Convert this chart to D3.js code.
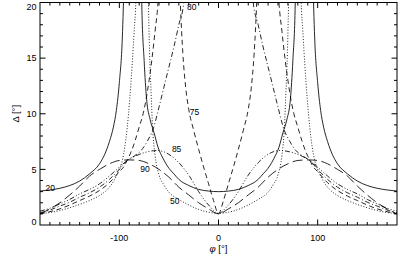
<!DOCTYPE html>
<html><head><meta charset="utf-8">
<script src="https://cdn.jsdelivr.net/npm/d3@7"></script>
<style>body{margin:0;background:#fff}text{font-family:"Liberation Sans",Arial,sans-serif;fill:#000}</style>
</head><body><svg id="c" width="399" height="265"></svg>
<script>
// ---- data; null marks a gap where the curve leaves the frame ----
const phi20   = [-180,-170,-160,-150,-140,-130,-120,-115,-110,-106,-103,-100,-97,-96,-95.3,-87,-78,-77.4,-75,-72.5,-69,-65,-61,-56,-50,-45,-40,-30,-20,-10,0,10,20,30,40,45,50,56,61,65,69,72.5,75,77.4,78,87,95.3,96,97,100,103,106,110,115,120,130,140,150,160,170,180];
const delta20 = [3.05,3.15,3.3,3.55,3.95,4.6,5.5,6.3,7.5,8.8,10.3,12.8,16.8,19.5,22,null,24,20,14.8,11.3,9.5,8.3,7.0,6.0,5.1,4.6,4.1,3.55,3.2,3.05,3.0,3.05,3.2,3.55,4.1,4.6,5.1,6.0,7.0,8.3,9.5,11.3,14.8,20,24,null,22,19.5,16.8,12.8,10.3,8.8,7.5,6.3,5.5,4.6,3.95,3.55,3.3,3.15,3.05];

const phi50   = [-180,-170,-160,-150,-140,-130,-120,-112,-106,-101,-97,-94.5,-92,-89.5,-87,-85,-83.4,-82.8,-77,-71.2,-70.7,-69.5,-68,-66.5,-64,-60,-55,-50,-40,-30,-20,-10,0,10,20,30,40,50,55,60,64,66.5,68,69.5,70.7,71.2,77,82.8,83.4,85,87,89.5,92,94.5,97,101,106,112,120,130,140,150,160,170,180];
const delta50 = [1.05,1.12,1.3,1.55,1.85,2.2,2.65,3.2,3.9,4.8,5.8,7.0,8.8,11.3,14.5,17.5,20,22,null,22,20,15.5,12,8.8,6.3,4.5,3.6,2.95,2.3,1.8,1.4,1.15,1.05,1.15,1.4,1.8,2.3,2.95,3.6,4.5,6.3,8.8,12,15.5,20,22,null,22,20,17.5,14.5,11.3,8.8,7.0,5.8,4.8,3.9,3.2,2.65,2.2,1.85,1.55,1.3,1.12,1.05];

const phi75   = [-180,-170,-160,-150,-140,-130,-120,-110,-100,-95,-92,-88,-84,-80,-76,-73,-70,-67,-64,-61,-60,-50,-39.3,-38.5,-36,-33,-30,-25,-20,-15,-10,-5,0,5,10,15,20,25,30,33,36,38.5,39.3,50,60,61,64,67,70,73,76,80,84,88,92,95,100,110,120,130,140,150,160,170,180];
const delta75 = [1.0,1.2,1.45,1.8,2.2,2.6,3.1,3.8,4.8,5.3,5.85,6.6,7.6,8.8,10.0,11.3,13.0,15.0,17.4,20,21.5,null,22,20,15.5,12.3,10.4,8.5,6.8,5.2,3.7,2.2,1.0,2.2,3.7,5.2,6.8,8.5,10.4,12.3,15.5,20,22,null,21.5,20,17.4,15.0,13.0,11.3,10.0,8.8,7.6,6.6,5.85,5.3,4.8,3.8,3.1,2.6,2.2,1.8,1.45,1.2,1.0];

const phi80   = [-180,-170,-160,-150,-140,-130,-120,-110,-100,-92,-85,-78,-72,-66,-60,-55,-50,-45,-40,-35,-33.5,0,33.5,35,40,45,50,55,60,66,72,78,85,92,100,110,120,130,140,150,160,170,180];
const delta80 = [1.1,1.35,1.7,2.05,2.5,2.9,3.4,4.1,5.0,5.8,6.2,6.7,7.5,8.6,10.6,12.4,14.2,16.0,18.0,20,22,null,22,20,18.0,16.0,14.2,12.4,10.6,8.6,7.5,6.7,6.2,5.8,5.0,4.1,3.4,2.9,2.5,2.05,1.7,1.35,1.1];

const phi85   = [-180,-170,-160,-150,-140,-130,-120,-110,-100,-92,-85,-75,-62,-50,-40,-29,-20,-9,0,9,20,29,40,50,62,75,85,92,100,110,120,130,140,150,160,170,180];
const delta85 = [1.25,1.5,1.9,2.3,2.8,3.2,3.7,4.4,5.2,5.8,6.15,6.5,6.7,6.35,5.6,4.35,3.0,1.7,1.05,1.7,3.0,4.35,5.6,6.35,6.7,6.5,6.15,5.8,5.2,4.4,3.7,3.2,2.8,2.3,1.9,1.5,1.25];

const phi90   = [-180,-170,-160,-150,-140,-130,-120,-110,-100,-90,-80,-70,-60,-50,-40,-30,-20,-10,0,10,20,30,40,50,60,70,80,90,100,110,120,130,140,150,160,170,180];
const delta90 = [1.0,1.45,2.0,2.7,3.5,4.4,5.0,5.5,5.8,5.85,5.8,5.5,5.0,4.3,3.4,2.7,2.0,1.45,1.0,1.45,2.0,2.7,3.4,4.3,5.0,5.5,5.8,5.85,5.8,5.5,5.0,4.4,3.5,2.7,2.0,1.45,1.0];

const curveNames  = ["20","50","75","80","85","90"];
const labelPhi    = [-174.5,-49,-29,-31.8,-47,-79];
const labelDelta  = [3.1,1.9,9.9,19.3,6.6,4.8];
const xTickLabels = ["-100","0","100"];
const yTickLabels = ["0","5","10","15","20"];

// ---- layout ----
const W=399,H=265, L=40, R=397, T=2.5, B=225;
const x=d3.scaleLinear().domain([-180,180]).range([L,R]);
const y=d3.scaleLinear().domain([0,20]).range([B,T]);
const svg=d3.select("#c");
svg.append("defs").append("clipPath").attr("id","pc").append("rect")
  .attr("x",L).attr("y",T).attr("width",R-L).attr("height",B-T);

const series=[
  {phi:phi20,d:delta20,dash:null},
  {phi:phi50,d:delta50,dash:"1,1.8"},
  {phi:phi75,d:delta75,dash:"5,3.5"},
  {phi:phi80,d:delta80,dash:"5,2.5,1,2.5"},
  {phi:phi85,d:delta85,dash:"5,2,1,2,1,2,1,2"},
  {phi:phi90,d:delta90,dash:"10,4.5"}
];
const line=d3.line().defined(p=>p[1]!=null).x(p=>x(p[0])).y(p=>y(p[1])).curve(d3.curveMonotoneX);
const g=svg.append("g").attr("clip-path","url(#pc)");
series.forEach(s=>{
  const pts=s.phi.map((p,i)=>[p,s.d[i]]);
  g.append("path").attr("d",line(pts)).attr("fill","none").attr("stroke","#000")
   .attr("stroke-width",0.85).attr("stroke-dasharray",s.dash);
});

// frame
svg.append("rect").attr("x",L).attr("y",T).attr("width",R-L).attr("height",B-T)
  .attr("fill","none").attr("stroke","#000").attr("stroke-width",1);

// ticks (inward, all four sides)
const ax=svg.append("g").attr("stroke","#000").attr("stroke-width",1);
d3.range(-170,180,10).forEach(v=>{
  const len=(v%100===0)?5.5:3;
  ax.append("line").attr("x1",x(v)).attr("x2",x(v)).attr("y1",B).attr("y2",B-len);
  ax.append("line").attr("x1",x(v)).attr("x2",x(v)).attr("y1",T).attr("y2",T+len);
});
d3.range(1,20,1).forEach(v=>{
  const len=(v%5===0)?5.5:3;
  ax.append("line").attr("y1",y(v)).attr("y2",y(v)).attr("x1",L).attr("x2",L+len);
  ax.append("line").attr("y1",y(v)).attr("y2",y(v)).attr("x1",R).attr("x2",R-len);
});

// tick labels
[-100,0,100].forEach((v,i)=>{
  svg.append("text").attr("x",x(v)).attr("y",B+15.7).attr("text-anchor","middle")
    .attr("font-size",9).text(xTickLabels[i]);
});
[0,5,10,15,20].forEach((v,i)=>{
  const base=Math.max(9.5,Math.min(B,y(v)+3.3));
  svg.append("text").attr("x",L-3.5).attr("y",base).attr("text-anchor","end")
    .attr("font-size",9).text(yTickLabels[i]);
});

// axis titles
svg.append("text").attr("x",(L+R)/2).attr("y",251.5).attr("text-anchor","middle").attr("font-size",9.5)
  .html('<tspan font-style="italic">φ</tspan> [°]');
svg.append("text").attr("transform",`translate(18.5,${(T+B)/2}) rotate(-90)`).attr("text-anchor","middle")
  .attr("font-size",9.5).text("Δ [°]");

// curve labels
curveNames.forEach((n,i)=>{
  svg.append("text").attr("x",x(labelPhi[i])).attr("y",y(labelDelta[i])).attr("font-size",8.5).text(n);
});
</script></body></html>
